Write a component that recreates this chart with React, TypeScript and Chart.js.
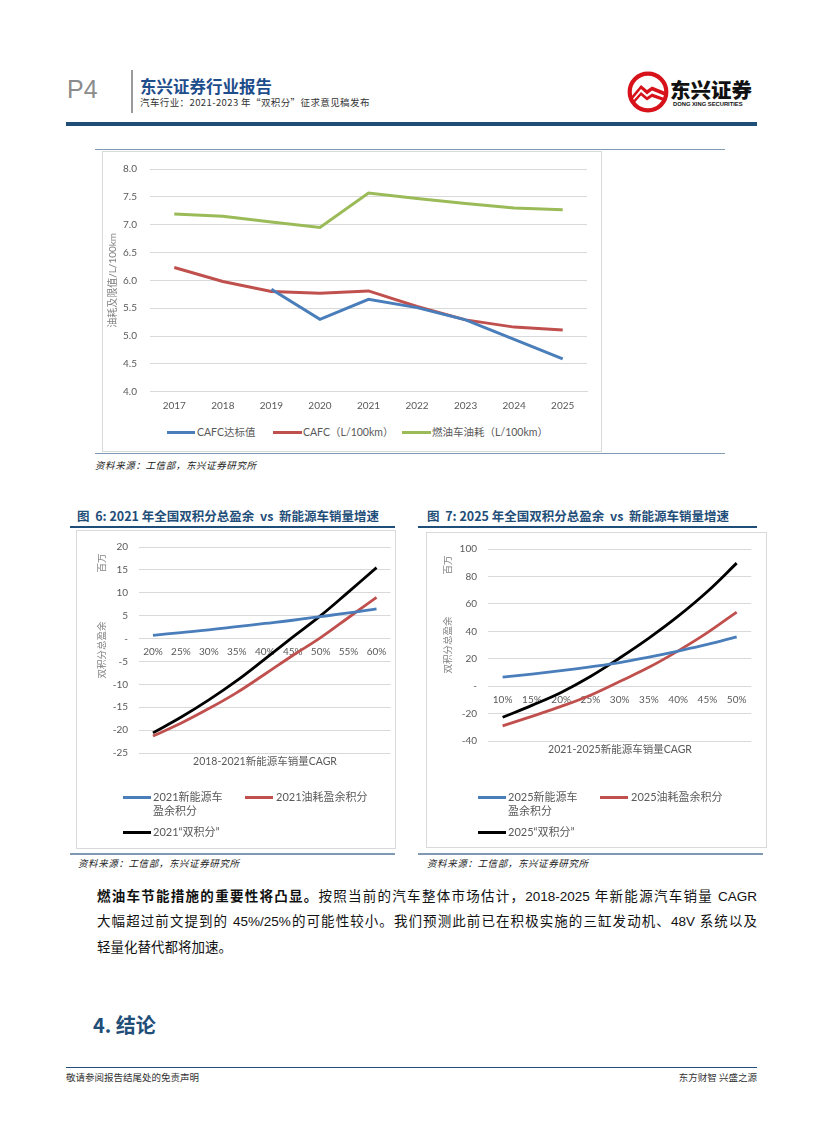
import React, { useEffect, useRef } from 'react';
import { Chart, registerables } from 'chart.js';

Chart.register(...registerables);

// ---------- Data ----------
const years = ['2017', '2018', '2019', '2020', '2021', '2022', '2023', '2024', '2025'];
const cafcTarget = [null, null, 5.84, 5.3, 5.66, 5.51, 5.29, 4.94, 4.59];
const cafcActual = [6.23, 5.98, 5.8, 5.77, 5.81, 5.53, 5.29, 5.16, 5.11];
const iceFuel = [7.19, 7.15, 7.05, 6.95, 7.57, 7.47, 7.38, 7.3, 7.27];

const cagr2021 = ['20%', '25%', '30%', '35%', '40%', '45%', '50%', '55%', '60%'];
const nev2021 = [0.7, 1.3, 1.9, 2.6, 3.3, 4.0, 4.8, 5.6, 6.5];
const fuel2021 = [-21.3, -18.5, -15.3, -11.8, -7.8, -3.7, 0.2, 4.6, 9.0];
const dual2021 = [-20.6, -17.2, -13.4, -9.2, -4.5, 0.3, 5.0, 10.2, 15.5];

const cagr2025 = ['10%', '15%', '20%', '25%', '30%', '35%', '40%', '45%', '50%'];
const nev2025 = [6.6, 8.8, 11.3, 14.1, 17.2, 21.2, 25.6, 30.4, 36.0];
const fuel2025 = [-29.0, -22.0, -14.8, -6.6, 3.4, 13.7, 25.7, 39.0, 54.0];
const dual2025 = [-22.7, -14.0, -4.6, 7.0, 20.5, 35.0, 51.0, 69.0, 89.7];

// ---------- Styles ----------
const BLUE = '#4a7ebb';
const RED = '#c0504d';
const GREEN = '#9bbb59';
const BLACK = '#000000';
const GRID = '#d9d9d9';
const TICK = '#595959';
const TITLE_GRAY = '#808080';
const NAVY = '#1f4e79';
const FONT = "Lato, 'Noto Sans CJK SC', sans-serif";

Chart.defaults.font.family = FONT;

function useChart(ref: React.RefObject<HTMLCanvasElement>, makeConfig: () => any) {
  useEffect(() => {
    if (!ref.current) return;
    const chart = new Chart(ref.current, makeConfig());
    return () => chart.destroy();
  }, []);
}

const unitPlugin = (x: number) => ({
  id: 'unitLabel',
  afterDraw(chart: any) {
    const { ctx, chartArea } = chart;
    ctx.save();
    ctx.translate(x, chartArea.top + 16);
    ctx.rotate(-Math.PI / 2);
    ctx.fillStyle = TITLE_GRAY;
    ctx.font = `9.5px ${FONT}`;
    ctx.textAlign = 'center';
    ctx.textBaseline = 'middle';
    ctx.fillText('百万', 0, 0);
    ctx.restore();
  },
});

function Chart1() {
  const ref = useRef<HTMLCanvasElement>(null);
  useChart(ref, () => ({
    type: 'line',
    data: {
      labels: years,
      datasets: [
        { label: 'CAFC达标值', data: cafcTarget, borderColor: BLUE, borderWidth: 3, pointRadius: 0, tension: 0 },
        { label: 'CAFC（L/100km）', data: cafcActual, borderColor: RED, borderWidth: 3, pointRadius: 0, tension: 0 },
        { label: '燃油车油耗（L/100km）', data: iceFuel, borderColor: GREEN, borderWidth: 3, pointRadius: 0, tension: 0 },
      ],
    },
    options: {
      animation: false,
      responsive: true,
      maintainAspectRatio: false,
      layout: { padding: { left: 0, right: 14, top: 16.2, bottom: 8.3 } },
      plugins: { legend: { display: false }, tooltip: { enabled: false } },
      scales: {
        x: {
          offset: true,
          grid: { display: false, drawTicks: false, offset: true },
          border: { display: true, color: GRID },
          ticks: { color: TICK, font: { size: 10 }, padding: 8 },
          afterFit: (s: any) => { s.height = 20; },
        },
        y: {
          min: 4,
          max: 8,
          ticks: { stepSize: 0.5, color: TICK, font: { size: 10 }, padding: 13, callback: (v: any) => Number(v).toFixed(1) },
          grid: { color: GRID, drawTicks: false },
          border: { display: false },
          title: { display: true, text: '油耗及限值/L/100km', color: TITLE_GRAY, font: { size: 10 }, padding: { top: 5, bottom: 0 } },
          afterFit: (s: any) => { s.width = 48; },
        },
      },
    },
  }));
  return <canvas ref={ref} />;
}

function curveConfig(labels: string[], a: number[], b: number[], c: number[], names: string[], min: number, max: number, step: number, pad: any, titlePad: number, yWidth: number, unitX: number) {
  return {
    type: 'line',
    data: {
      labels,
      datasets: [
        { label: names[0], data: a, borderColor: BLUE, borderWidth: 2.8, pointRadius: 0, tension: 0.4 },
        { label: names[1], data: b, borderColor: RED, borderWidth: 2.8, pointRadius: 0, tension: 0.4 },
        { label: names[2], data: c, borderColor: BLACK, borderWidth: 2.8, pointRadius: 0, tension: 0.4 },
      ],
    },
    options: {
      animation: false,
      responsive: true,
      maintainAspectRatio: false,
      layout: { padding: pad },
      plugins: { legend: { display: false }, tooltip: { enabled: false } },
      scales: {
        x: {
          position: { y: 0 },
          offset: true,
          grid: { display: false, drawTicks: false, offset: true },
          border: { display: false },
          ticks: { color: TICK, font: { size: 10 }, padding: 7.5, maxRotation: 0, autoSkip: false },
        },
        y: {
          min,
          max,
          ticks: { stepSize: step, color: TICK, font: { size: 10 }, padding: 11, callback: (v: any) => (Number(v) === 0 ? '-' : String(v)) },
          grid: { color: GRID, drawTicks: false },
          border: { display: false },
          title: { display: true, text: '双积分总盈余', color: TITLE_GRAY, font: { size: 9.5 }, padding: { top: titlePad, bottom: 0 } },
          afterFit: (s: any) => { s.width = yWidth; },
        },
      },
    },
    plugins: [unitPlugin(unitX)],
  };
}

function Chart2() {
  const ref = useRef<HTMLCanvasElement>(null);
  useChart(ref, () =>
    curveConfig(cagr2021, nev2021, fuel2021, dual2021, ['2021新能源车盈余积分', '2021油耗盈余积分', '2021“双积分”'], -25, 20, 5,
      { left: 0, right: 3, top: 16, bottom: 8 }, 18, 61, 23.7));
  return <canvas ref={ref} />;
}

function Chart3() {
  const ref = useRef<HTMLCanvasElement>(null);
  useChart(ref, () =>
    curveConfig(cagr2025, nev2025, fuel2025, dual2025, ['2025新能源车盈余积分', '2025油耗盈余积分', '2025“双积分”'], -40, 100, 20,
      { left: 0, right: 13.7, top: 15.3, bottom: 7.3 }, 15.3, 61, 21));
  return <canvas ref={ref} />;
}

const abs = (left: number, top: number, extra: React.CSSProperties = {}): React.CSSProperties => ({
  position: 'absolute',
  left,
  top,
  ...extra,
});

function LegendItem({ x, y, lineW, color, text, textX, fontSize = 11 }: any) {
  return (
    <>
      <div style={abs(x, y - 1.5, { width: lineW, height: 3, background: color })} />
      <div style={abs(textX, y - 7.5, { fontSize, lineHeight: '14.5px', color: TICK, fontFamily: FONT, whiteSpace: 'nowrap' })}>
        {text}
      </div>
    </>
  );
}

export default function App() {
  const sourceStyle: React.CSSProperties = {
    fontSize: 9.5,
    fontStyle: 'italic',
    color: '#222',
    lineHeight: '12px',
    whiteSpace: 'nowrap',
    letterSpacing: '0.6px',
  };
  const bodyLine: React.CSSProperties = {
    width: 660,
    fontSize: 13.5,
    lineHeight: '18px',
    color: '#111',
    fontFamily: "'Liberation Sans', 'Noto Sans CJK SC', sans-serif",
    textAlign: 'justify',
    textAlignLast: 'justify' as any,
    whiteSpace: 'nowrap',
  };
  return (
    <div style={{ position: 'absolute', left: 0, top: 0, width: 827, height: 1122, background: '#fff', overflow: 'hidden', fontFamily: "'Noto Sans CJK SC', sans-serif" }}>
      {/* Header */}
      <div style={abs(67, 77, { fontSize: 25, lineHeight: 1, color: '#8c8c8c', fontFamily: "'Liberation Sans', sans-serif" })}>P4</div>
      <div style={abs(131, 70, { width: 2, height: 43, background: '#9a9a9a' })} />
      <div style={abs(140, 77, { fontSize: 16.5, lineHeight: '18px', fontWeight: 700, color: '#1e4d8c', whiteSpace: 'nowrap' })}>东兴证券行业报告</div>
      <div style={abs(140, 96, { fontSize: 9.5, lineHeight: '12px', color: '#333', whiteSpace: 'nowrap', letterSpacing: '0.4px' })}>汽车行业：2021-2023 年“双积分”征求意见稿发布</div>

      {/* Logo */}
      <svg style={abs(627, 71)} width={42} height={42} viewBox="0 0 42 42">
        <circle cx={21} cy={21} r={18.3} fill="#fff" stroke="#d7121b" strokeWidth={4.2} />
        <path d="M4 26 L14 14 L20 19 L25 15.5 L38.5 21 L38.5 25 L25 19.5 L20 23.5 L14 18 L4.5 29.5 Z" fill="#d7121b" />
        <path d="M5 31 L14 21 L20 26 L25 22.5 L37.5 27 L36.5 30 L25 26 L20 29.5 L14 24.5 L6.5 33 Z" fill="#d7121b" />
      </svg>
      <div style={abs(670, 78, { fontSize: 20.5, lineHeight: '22px', fontWeight: 900, color: '#111', whiteSpace: 'nowrap' })}>东兴证券</div>
      <div style={abs(673, 101, { fontSize: 5.8, lineHeight: '7px', fontWeight: 700, color: '#111', whiteSpace: 'nowrap', fontFamily: "'Liberation Sans', sans-serif" })}>DONG XING SECURITIES</div>
      <div style={abs(66, 122, { width: 691, height: 4, background: NAVY })} />

      {/* Chart 1 */}
      <div style={abs(95, 149, { width: 630, height: 1, background: '#8098b2' })} />
      <div style={abs(102, 151, { width: 500, height: 301, border: `1px solid ${GRID}`, boxSizing: 'border-box' })} />
      <div style={abs(102, 150, { width: 499, height: 270 })}>
        <Chart1 />
      </div>
      <LegendItem x={167} y={432.5} lineW={28} color={BLUE} textX={197} text="CAFC达标值" fontSize={10.5} />
      <LegendItem x={273} y={432.5} lineW={29} color={RED} textX={303} text="CAFC（L/100km）" fontSize={10.5} />
      <LegendItem x={402} y={432.5} lineW={29} color={GREEN} textX={432} text="燃油车油耗（L/100km）" fontSize={10.5} />
      <div style={abs(95, 453, { width: 630, height: 1, background: '#8098b2' })} />
      <div style={abs(95, 459, sourceStyle)}>资料来源：工信部，东兴证券研究所</div>

      {/* Figure titles */}
      <div style={abs(77, 508, { fontSize: 12.5, lineHeight: '16px', fontWeight: 700, color: NAVY, whiteSpace: 'nowrap' })}>图&nbsp;&nbsp;6: 2021 年全国双积分总盈余&nbsp;&nbsp;vs&nbsp;&nbsp;新能源车销量增速</div>
      <div style={abs(70, 526, { width: 325, height: 1.5, background: NAVY })} />
      <div style={abs(427, 508, { fontSize: 12.5, lineHeight: '16px', fontWeight: 700, color: NAVY, whiteSpace: 'nowrap' })}>图&nbsp;&nbsp;7: 2025 年全国双积分总盈余&nbsp;&nbsp;vs&nbsp;&nbsp;新能源车销量增速</div>
      <div style={abs(418, 526, { width: 339, height: 1.5, background: NAVY })} />

      {/* Chart 2 */}
      <div style={abs(76, 530, { width: 320, height: 319, border: `1px solid ${GRID}`, boxSizing: 'border-box' })} />
      <div style={abs(78, 530, { width: 316, height: 240 })}>
        <Chart2 />
      </div>
      <div style={abs(165, 754, { width: 200, textAlign: 'center', fontSize: 10.5, lineHeight: '14px', color: TICK, fontFamily: FONT, whiteSpace: 'nowrap' })}>2018-2021新能源车销量CAGR</div>
      <LegendItem x={123} y={797} lineW={28} color={BLUE} textX={153} text={<>2021新能源车<br />盈余积分</>} />
      <LegendItem x={245} y={797} lineW={28} color={RED} textX={276} text="2021油耗盈余积分" />
      <LegendItem x={123} y={832} lineW={28} color={BLACK} textX={153} text="2021“双积分”" />

      {/* Chart 3 */}
      <div style={abs(426, 532, { width: 341, height: 316, border: `1px solid ${GRID}`, boxSizing: 'border-box' })} />
      <div style={abs(427, 532, { width: 338, height: 226 })}>
        <Chart3 />
      </div>
      <div style={abs(520, 742, { width: 200, textAlign: 'center', fontSize: 10.5, lineHeight: '14px', color: TICK, fontFamily: FONT, whiteSpace: 'nowrap' })}>2021-2025新能源车销量CAGR</div>
      <LegendItem x={478} y={797} lineW={28} color={BLUE} textX={508} text={<>2025新能源车<br />盈余积分</>} />
      <LegendItem x={600} y={797} lineW={28} color={RED} textX={631} text="2025油耗盈余积分" />
      <LegendItem x={478} y={832} lineW={28} color={BLACK} textX={508} text="2025“双积分”" />

      {/* Source lines */}
      <div style={abs(70, 853, { width: 325, height: 1.5, background: '#8098b2' })} />
      <div style={abs(418, 853, { width: 345, height: 1.5, background: '#8098b2' })} />
      <div style={abs(78, 857, sourceStyle)}>资料来源：工信部，东兴证券研究所</div>
      <div style={abs(427, 857, sourceStyle)}>资料来源：工信部，东兴证券研究所</div>

      {/* Body text */}
      <div style={abs(97, 888, bodyLine)}>
        <b>燃油车节能措施的重要性将凸显。</b>按照当前的汽车整体市场估计，2018-2025 年新能源汽车销量 CAGR
      </div>
      <div style={abs(97, 913, bodyLine)}>
        大幅超过前文提到的 45%/25%的可能性较小。我们预测此前已在积极实施的三缸发动机、48V 系统以及
      </div>
      <div style={abs(97, 939, { ...bodyLine, textAlign: 'left', textAlignLast: 'left' as any, width: 'auto' })}>轻量化替代都将加速。</div>

      <div style={abs(93, 1013, { fontSize: 20, lineHeight: '24px', fontWeight: 700, color: NAVY, whiteSpace: 'nowrap' })}>4. 结论</div>

      {/* Footer */}
      <div style={abs(66, 1067, { width: 691, height: 1, background: NAVY })} />
      <div style={abs(66, 1071, { fontSize: 9.5, lineHeight: '12px', color: '#333', whiteSpace: 'nowrap' })}>敬请参阅报告结尾处的免责声明</div>
      <div style={abs(557, 1071, { width: 200, textAlign: 'right', fontSize: 9.5, lineHeight: '12px', color: '#333', whiteSpace: 'nowrap' })}>东方财智 兴盛之源</div>
    </div>
  );
}
